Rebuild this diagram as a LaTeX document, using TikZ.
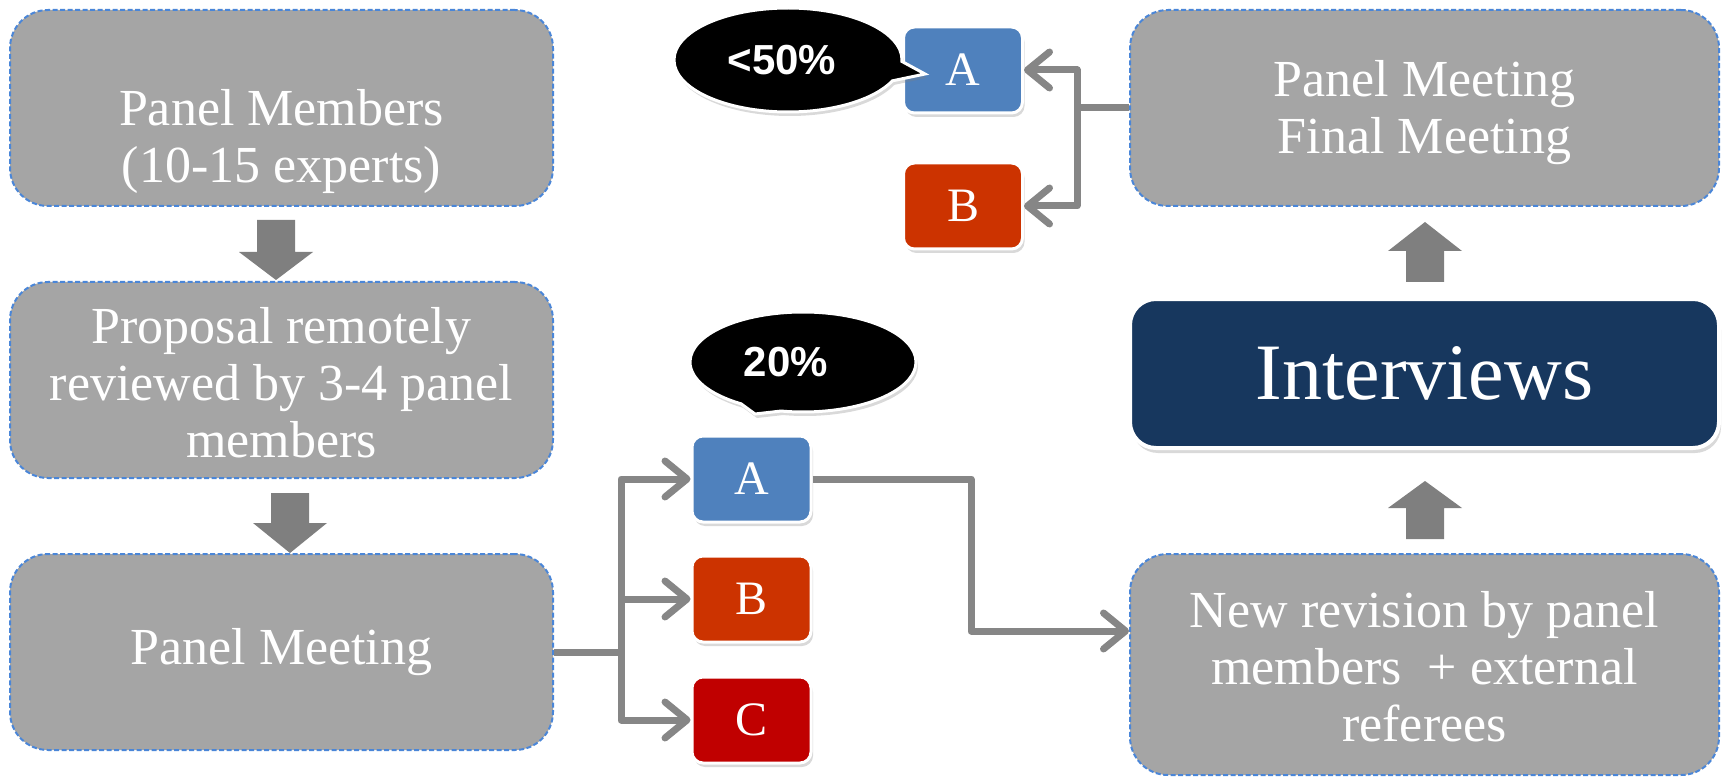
\documentclass[tikz,border=0pt]{standalone}
\usepackage{fontspec}
\setmainfont{Liberation Serif}
\newfontfamily\bubblefont{Liberation Sans}
\usetikzlibrary{arrows.meta,shadows,shapes.callouts,calc}
\definecolor{boxgray}{HTML}{A5A5A5}
\definecolor{dashblue}{HTML}{4A86D8}
\definecolor{conngray}{HTML}{868686}
\definecolor{blockgray}{HTML}{7F7F7F}
\definecolor{navy}{HTML}{17375E}
\definecolor{cblue}{HTML}{4F81BD}
\definecolor{corange}{HTML}{CC3300}
\definecolor{cred}{HTML}{C00000}
\tikzset{
 graybox/.style={draw=dashblue, line width=2pt, dash pattern=on 5pt off 2.5pt, fill=boxgray, rounded corners=38pt, minimum width=543pt, minimum height=196pt, inner sep=0pt},
 boxtext/.style={text=white, align=center, font=\fontsize{52}{57}\selectfont, inner sep=0pt},
 letterbox/.style={draw=white, line width=3pt, rounded corners=11pt, minimum width=119pt, minimum height=86pt, inner sep=0pt, text=white, font=\fontsize{48}{48}\selectfont, drop shadow={shadow xshift=2pt, shadow yshift=-4pt, opacity=0.3}},
 conn/.style={draw=conngray, line width=7pt, line join=round, -{Straight Barb[length=22pt,width=36pt,round]}},
 plainconn/.style={draw=conngray, line width=7pt, line join=round},
 bubble/.style={ellipse callout, fill=black, draw=white, line width=3pt, text=white, font=\bubblefont\bfseries\fontsize{42}{42}\selectfont, inner sep=0pt, callout pointer arc=22, drop shadow={shadow xshift=2pt, shadow yshift=-4pt, opacity=0.3}}
}
\begin{document}
\begin{tikzpicture}[x=1pt,y=-1pt]
\useasboundingbox (0,0) rectangle (1725,778);

% left column
\node[graybox] (b1) at (281.5,108) {};
\node[boxtext] (t1) at (281.5,141) {Panel Members\\(10-15 experts)};
\node[graybox] (b2) at (281.5,380) {};
\node[boxtext] (t2) at (281.5,383) {Proposal remotely\\reviewed by 3-4 panel\\members};
\node[graybox] (b3) at (281.5,652) {};
\node[boxtext] (t3) at (281.5,652) {Panel Meeting};

% right column
\node[graybox, minimum width=589pt] (fin) at (1424.5,108) {};
\node[boxtext] (t4) at (1424.5,113) {Panel Meeting\\Final Meeting};
\node[draw=white, line width=4pt, fill=navy, rounded corners=26pt, minimum width=589pt, minimum height=149pt, inner sep=0pt, text=white, font=\fontsize{80}{80}\selectfont, drop shadow={shadow xshift=2pt, shadow yshift=-5pt, opacity=0.3}] (int) at (1424.5,373.5) {Interviews};
\node[graybox, minimum width=589pt, minimum height=221pt] (rev) at (1424.5,664.5) {};
\node[boxtext] (t5) at (1424.5,667) {New revision by panel\\members~ + external\\referees};

% block arrows
\fill[blockgray] (257,220) -- (295,220) -- (295,252) -- (313,252) -- (276,280) -- (239,252) -- (257,252) -- cycle;
\fill[blockgray] (271,493) -- (309,493) -- (309,523) -- (327,523) -- (290,553) -- (253,523) -- (271,523) -- cycle;
\fill[blockgray] (1406,282) -- (1444,282) -- (1444,251) -- (1462,251) -- (1425,222) -- (1388,251) -- (1406,251) -- cycle;
\fill[blockgray] (1406,539) -- (1444,539) -- (1444,508) -- (1462,508) -- (1425,481) -- (1388,508) -- (1406,508) -- cycle;

% letter boxes
\node[letterbox, fill=cblue] (mA) at (751.5,479) {A};
\node[letterbox, fill=corange] (mB) at (751.5,599) {B};
\node[letterbox, fill=cred] (mC) at (751.5,720) {C};
\node[letterbox, fill=cblue] (tA) at (963,70) {A};
\node[letterbox, fill=corange] (tB) at (963,206) {B};

% connectors
\coordinate (jm) at (621,652);
\draw[plainconn] (b3.east) -- (jm);
\draw[conn] (jm) |- (mA.west);
\draw[conn] (jm |- mB.west) -- (mB.west);
\draw[conn] (jm) |- (mC.west);
\coordinate (k1) at (971,631);
\draw[conn] (mA.east) -| (k1) -- (rev.west |- k1);
\coordinate (tj) at (1077,108);
\draw[plainconn] (fin.west) -- (tj);
\draw[conn] (tj) |- (tA.east);
\draw[conn] (tj) |- (tB.east);

% bubbles
\coordinate (p20) at (755,414);
\node[bubble, minimum width=226pt, minimum height=100pt, callout absolute pointer={(p20)}] (bub20) at (803,362) {20\%\hspace*{34pt}};
\coordinate (p50) at (925,74);
\node[bubble, minimum width=228pt, minimum height=104pt, callout absolute pointer={(p50)}] (bub50) at (788,60) {<50\%\hspace*{12pt}};
\end{tikzpicture}
\end{document}
